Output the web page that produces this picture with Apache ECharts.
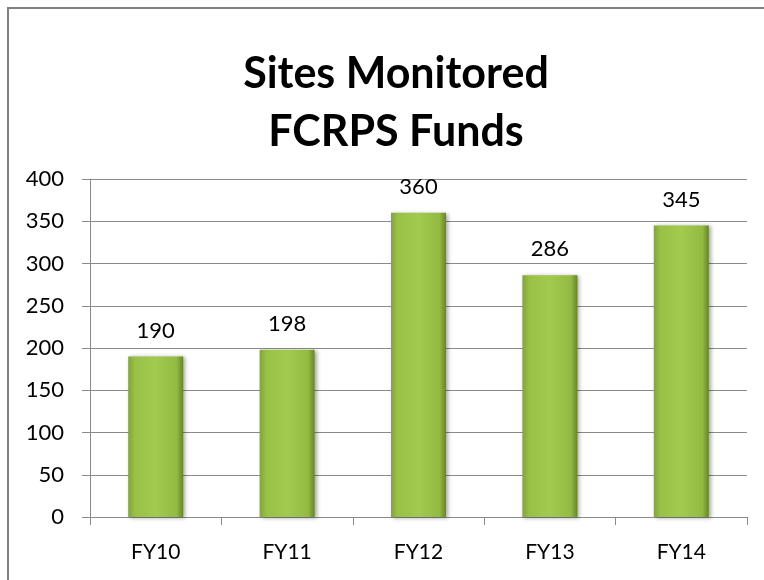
<!DOCTYPE html>
<html>
<head>
<meta charset="utf-8">
<style>
  html, body { margin: 0; padding: 0; background: #fff; }
  #chart { width: 764px; height: 580px; }
</style>
<script src="https://cdn.jsdelivr.net/npm/echarts@6/dist/echarts.min.js"></script>
</head>
<body>
<div id="chart"></div>
<script>
// chart data
const categories = ['FY10', 'FY11', 'FY12', 'FY13', 'FY14']
const sitesMonitored = [190, 198, 360, 286, 345]
const titleLines = ['Sites Monitored', 'FCRPS Funds']

const font = 'Lato, "Open Sans", sans-serif'
const axisGray = '#8a8a8a'

const chart = echarts.init(document.getElementById('chart'))

const barFill = new echarts.graphic.LinearGradient(0, 0, 1, 0, [
  { offset: 0, color: '#82a538' },
  { offset: 0.12, color: '#98c146' },
  { offset: 0.5, color: '#a2ca4e' },
  { offset: 0.88, color: '#93bb43' },
  { offset: 1, color: '#67852a' }
])

chart.setOption({
  animation: false,
  title: {
    text: titleLines.join('\n'),
    left: 391,
    textAlign: 'center',
    top: 40,
    textStyle: {
      fontFamily: font,
      fontSize: 43,
      fontWeight: 'bold',
      color: '#000',
      lineHeight: 58
    }
  },
  // frame: only the left and top edges show inside the picture
  graphic: [{
    type: 'line',
    shape: { x1: 8, y1: 7, x2: 8, y2: 580 },
    style: { stroke: '#808080', lineWidth: 2 },
    silent: true
  }, {
    type: 'line',
    shape: { x1: 7, y1: 8, x2: 764, y2: 8 },
    style: { stroke: '#808080', lineWidth: 2 },
    silent: true
  }],
  grid: {
    left: 90,
    right: 17,
    top: 179,
    bottom: 63
  },
  xAxis: {
    type: 'category',
    data: categories,
    axisLine: { lineStyle: { color: axisGray, width: 1 } },
    axisTick: { show: true, length: 8, lineStyle: { color: axisGray } },
    axisLabel: {
      fontFamily: font,
      fontSize: 21,
      color: '#000',
      margin: 25
    }
  },
  yAxis: {
    type: 'value',
    min: 0,
    max: 400,
    interval: 50,
    axisLine: { show: true, lineStyle: { color: axisGray, width: 1 } },
    axisTick: { show: true, length: 8, lineStyle: { color: axisGray } },
    splitLine: { lineStyle: { color: axisGray, width: 1 } },
    axisLabel: {
      fontFamily: font,
      fontSize: 22,
      color: '#000',
      margin: 26
    }
  },
  series: [{
    type: 'bar',
    data: sitesMonitored,
    barWidth: 55,
    itemStyle: {
      color: barFill,
      shadowColor: 'rgba(0,0,0,0.35)',
      shadowBlur: 4,
      shadowOffsetX: 2,
      shadowOffsetY: 1
    },
    label: {
      show: true,
      position: 'top',
      distance: 15,
      fontFamily: font,
      fontSize: 22,
      color: '#000'
    }
  }]
})
</script>
</body>
</html>
